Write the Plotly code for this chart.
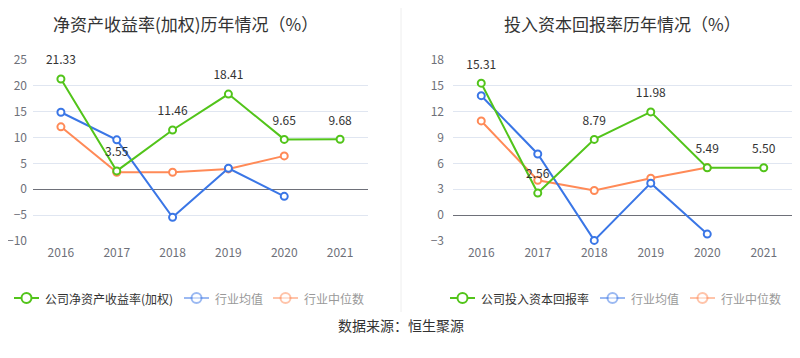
import plotly.graph_objects as go

years = ["2016", "2017", "2018", "2019", "2020", "2021"]

roe_company = [21.33, 3.55, 11.46, 18.41, 9.65, 9.68]
roe_avg = [14.9, 9.56, -5.43, 4.07, -1.36, None]
roe_median = [12.08, 3.29, 3.29, 3.94, 6.46, None]

roic_company = [15.31, 2.56, 8.79, 11.98, 5.49, 5.50]
roic_avg = [13.86, 7.10, -2.93, 3.71, -2.2, None]
roic_median = [10.93, 4.05, 2.86, 4.29, 5.52, None]

roe_ticks = [-10, -5, 0, 5, 10, 15, 20, 25]
roic_ticks = [-3, 0, 3, 6, 9, 12, 15, 18]

title_left = "净资产收益率(加权)历年情况（%）"
title_right = "投入资本回报率历年情况（%）"
legend_left = ["公司净资产收益率(加权)", "行业均值", "行业中位数"]
legend_right = ["公司投入资本回报率", "行业均值", "行业中位数"]
source_text = "数据来源：恒生聚源"

GREEN = "#52c41a"
BLUE = "#3a76e6"
ORANGE = "#ff8a57"
FONT = "Noto Sans CJK SC, Noto Sans, sans-serif"

# page has an 8px body margin: figure occupies page pixels 8..800 x 8..358
OFF = 8
W, H = 800 - OFF, 358 - OFF


def px(x):
    return (x - OFF) / W


def py(y):
    return 1 - (y - OFF) / H


fig = go.Figure()


def add_series(xa, ya, comp, avg, med):
    fig.add_trace(go.Scatter(
        x=years, y=med, xaxis=xa, yaxis=ya, mode="lines+markers",
        line=dict(color=ORANGE, width=2),
        marker=dict(symbol="circle", size=7, color="white", line=dict(color=ORANGE, width=2)),
        showlegend=False, hoverinfo="skip", cliponaxis=False))
    fig.add_trace(go.Scatter(
        x=years, y=avg, xaxis=xa, yaxis=ya, mode="lines+markers",
        line=dict(color=BLUE, width=2),
        marker=dict(symbol="circle", size=7, color="white", line=dict(color=BLUE, width=2)),
        showlegend=False, hoverinfo="skip", cliponaxis=False))
    fig.add_trace(go.Scatter(
        x=years, y=comp, xaxis=xa, yaxis=ya, mode="lines+markers",
        line=dict(color=GREEN, width=2),
        marker=dict(symbol="circle", size=7, color="white", line=dict(color=GREEN, width=2)),
        showlegend=False, hoverinfo="skip", cliponaxis=False))
    # value labels, offset above the points via an invisible larger marker
    fig.add_trace(go.Scatter(
        x=years, y=comp, xaxis=xa, yaxis=ya, mode="markers+text",
        text=[f"{v:.2f}" for v in comp], textposition="top center",
        textfont=dict(size=12, color="#333333", family=FONT),
        marker=dict(size=17, color="rgba(0,0,0,0)", line=dict(width=0)),
        showlegend=False, hoverinfo="skip", cliponaxis=False))


add_series("x", "y", roe_company, roe_avg, roe_median)
add_series("x2", "y2", roic_company, roic_avg, roic_median)

ydom = [py(241), py(60)]
axis_common_x = dict(type="category", showgrid=False, showline=False, zeroline=False,
                     ticks="", tickfont=dict(size=12, color="#6e7079", family=FONT),
                     ticklabelstandoff=3, fixedrange=True)
axis_common_y = dict(showgrid=True, gridcolor="#e0e6f1", gridwidth=1, zeroline=True,
                     zerolinecolor="#6e7079", zerolinewidth=1, showline=False, ticks="",
                     tickfont=dict(size=12, color="#6e7079", family=FONT), fixedrange=True)

fig.update_layout(
    width=W, height=H, margin=dict(l=0, r=0, t=0, b=0, autoexpand=False),
    paper_bgcolor="white", plot_bgcolor="white", showlegend=False,
    font=dict(family=FONT),
    xaxis=dict(domain=[px(33), px(368)], anchor="y", range=[-0.5, 5.5], **axis_common_x),
    yaxis=dict(domain=ydom, anchor="x", range=[-10, 25], tickvals=roe_ticks,
               ticklabelstandoff=5, **axis_common_y),
    xaxis2=dict(domain=[px(453), px(792)], anchor="y2", range=[-0.5, 5.5], **axis_common_x),
    yaxis2=dict(domain=ydom, anchor="x2", range=[-3, 18], tickvals=roic_ticks,
                ticklabelstandoff=8, **axis_common_y),
)

shapes = []
# tick marks below the zero line
for xa, ya in (("x", "y"), ("x2", "y2")):
    for yr in years:
        shapes.append(dict(type="line", xref=xa, yref=ya, x0=yr, x1=yr,
                           ysizemode="pixel", yanchor=0, y0=0, y1=-5,
                           line=dict(color="#6e7079", width=1)))
# separator
shapes.append(dict(type="line", xref="paper", yref="paper", x0=px(401), x1=px(401),
                   y0=1, y1=py(312), line=dict(color="#eeeeee", width=1)))

ann = [
    dict(text=title_left, x=px(185), y=py(9), xref="paper", yref="paper",
         xanchor="center", yanchor="top",
         showarrow=False, font=dict(size=17, color="#333333", family=FONT)),
    dict(text=title_right, x=px(622), y=py(9), xref="paper", yref="paper",
         xanchor="center", yanchor="top",
         showarrow=False, font=dict(size=17, color="#333333", family=FONT)),
    dict(text=source_text, x=px(401), y=py(325), xref="paper", yref="paper",
         xanchor="center", yanchor="middle",
         showarrow=False, font=dict(size=14, color="#333333", family=FONT)),
]

# legend items (icon positions in page pixels)
leg_y = 298
legend_items = [
    (14, legend_left[0], GREEN, 1.0, "#333333"),
    (184, legend_left[1], BLUE, 0.5, "#999999"),
    (273, legend_left[2], ORANGE, 0.5, "#999999"),
    (450, legend_right[0], GREEN, 1.0, "#333333"),
    (600, legend_right[1], BLUE, 0.5, "#999999"),
    (690, legend_right[2], ORANGE, 0.5, "#999999"),
]
for x0, label, col, op, tcol in legend_items:
    yp = py(leg_y)
    shapes.append(dict(type="line", xref="paper", yref="paper",
                       x0=px(x0), x1=px(x0 + 25), y0=yp, y1=yp,
                       line=dict(color=col, width=2), opacity=op, layer="above"))
    shapes.append(dict(type="circle", xref="paper", yref="paper",
                       xsizemode="pixel", ysizemode="pixel",
                       xanchor=px(x0 + 12.5), yanchor=yp,
                       x0=-5, x1=5, y0=-5, y1=5,
                       fillcolor="white", line=dict(color=col, width=2),
                       opacity=op, layer="above"))
    ann.append(dict(text=label, x=px(x0 + 29), y=yp, xref="paper", yref="paper",
                    xanchor="left", yanchor="middle", showarrow=False,
                    font=dict(size=12, color=tcol, family=FONT)))

fig.update_layout(shapes=shapes, annotations=ann)
fig.write_html("out.html")
